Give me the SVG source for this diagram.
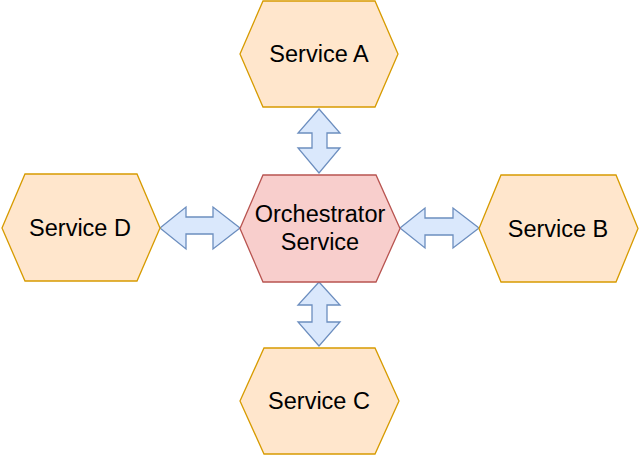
<svg xmlns="http://www.w3.org/2000/svg" width="640" height="455" viewBox="0 0 640 455">
<style>
.svc{fill:#FFE6CC;stroke:#D79B00;stroke-width:1.3}
.orc{fill:#F8CECC;stroke:#B85450;stroke-width:1.3}
.arr{fill:#DAE8FC;stroke:#6C8EBF;stroke-width:1.3;stroke-linejoin:miter}
text{font-family:"Liberation Sans",Arial,Helvetica,sans-serif;font-size:23.5px;fill:#000;text-anchor:middle}
</style>
<rect width="640" height="455" fill="#FFFFFF"/>
<g id="connectors">
<polygon class="arr" points="319,109 340,133 327,133 327,148 340,148 319,173 298,148 312,148 312,133 298,133"/>
<polygon class="arr" points="319,282 340,305 327,305 327,322 340,322 319,346 298,322 312,322 312,305 298,305"/>
<polygon class="arr" points="160,228 186,207 186,217 213,217 213,207 240,228 213,249 213,234 186,234 186,249"/>
<polygon class="arr" points="400,228 425,208 425,218 453,218 453,208 479,228 453,248 453,235 425,235 425,248"/>
</g>
<g id="service-a">
<polygon class="svc" points="263,1 375,1 398,54 375,107 263,107 240,54"/>
<text x="319" y="62">Service A</text>
</g>
<g id="orchestrator">
<polygon class="orc" points="263,175 376,175 400,228.5 376,282 263,282 240,228.5"/>
<text x="320" y="222">Orchestrator</text>
<text x="320" y="250">Service</text>
</g>
<g id="service-d">
<polygon class="svc" points="25,174 137,174 160,228 137,281 25,281 2,228"/>
<text x="80" y="236">Service D</text>
</g>
<g id="service-b">
<polygon class="svc" points="501,175 616,175 638,228.5 616,282 501,282 479,228.5"/>
<text x="558" y="237">Service B</text>
</g>
<g id="service-c">
<polygon class="svc" points="264,348 375,348 399,401 375,454 264,454 240,401"/>
<text x="319" y="409">Service C</text>
</g>
</svg>
